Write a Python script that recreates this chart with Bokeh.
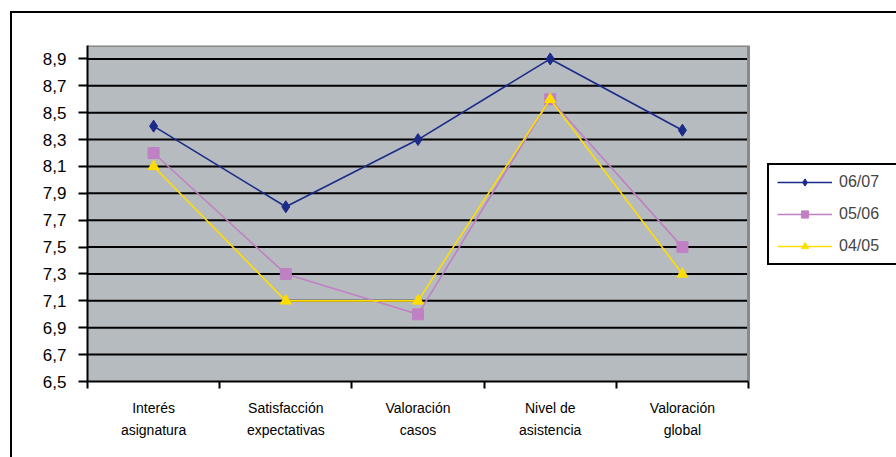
from bokeh.plotting import figure
from bokeh.models import FixedTicker, Legend, LegendItem, Range1d, InlineStyleSheet
from bokeh.embed import file_html
from bokeh.resources import INLINE

# Survey scores per course item, three academic years
categories = ["Interés\nasignatura", "Satisfacción\nexpectativas", "Valoración\ncasos",
              "Nivel de\nasistencia", "Valoración\nglobal"]
series_names = ["06/07", "05/06", "04/05"]
s0607 = [8.4, 7.8, 8.3, 8.9, 8.37]
s0506 = [8.2, 7.3, 7.0, 8.6, 7.5]
s0405 = [8.1, 7.1, 7.1, 8.6, 7.3]
y_ticks = [6.5, 6.7, 6.9, 7.1, 7.3, 7.5, 7.7, 7.9, 8.1, 8.3, 8.5, 8.7, 8.9]
y_min, y_max = 6.5, 9.0

FONT = "Liberation Sans"
n = len(categories)
xs = [i + 0.5 for i in range(n)]

# The frame spans to the right edge so the legend can sit beside the plot area;
# the grey plot area itself covers x in [0, n].
W, H = 896, 457
left_px, area_right_px, top_px, bottom_px = 87, 748, 45, 381
x_end = n * (W - left_px) / (area_right_px - left_px)

p = figure(width=W, height=H, output_backend="svg", toolbar_location=None,
           x_range=Range1d(0, x_end), y_range=Range1d(y_min, y_max),
           min_border_left=left_px, min_border_right=0,
           min_border_top=top_px, min_border_bottom=H - bottom_px)

p.border_fill_color = "white"
p.background_fill_color = "white"
p.outline_line_color = None
p.xgrid.grid_line_color = None
p.ygrid.grid_line_color = None

# grey plot area, black gridlines, grey top/right edge
p.quad(left=0, right=n, bottom=y_min, top=y_max, fill_color="#b6bbbf", line_color=None)
p.segment(x0=[0] * (len(y_ticks) - 1), x1=[n] * (len(y_ticks) - 1),
          y0=y_ticks[1:], y1=y_ticks[1:], line_color="black", line_width=2)
p.line([0, n, n], [y_max, y_max, y_min], line_color="#8a8a8a", line_width=3)

# y axis
p.yaxis.ticker = FixedTicker(ticks=y_ticks)
p.yaxis.major_label_overrides = {t: f"{t:.1f}".replace(".", ",") for t in y_ticks}
p.yaxis.major_label_text_font = FONT
p.yaxis.major_label_text_font_size = "17px"
p.yaxis.major_label_text_color = "black"
p.yaxis.axis_line_color = "black"
p.yaxis.axis_line_width = 2
p.yaxis.major_tick_line_color = "black"
p.yaxis.major_tick_line_width = 2
p.yaxis.major_tick_out = 9
p.yaxis.major_tick_in = 0
p.yaxis.minor_tick_line_color = None
p.yaxis.major_label_standoff = 12

# x axis: labels at category centres, tick marks at category boundaries
p.xaxis.ticker = FixedTicker(ticks=xs, minor_ticks=list(range(n + 1)))
p.xaxis.bounds = (0, n)
p.xaxis.major_label_overrides = {x: c for x, c in zip(xs, categories)}
p.xaxis.major_label_text_font = FONT
p.xaxis.major_label_text_font_size = "14px"
p.xaxis.major_label_text_color = "black"
p.xaxis.major_label_text_line_height = 1.4
p.xaxis.axis_line_color = "black"
p.xaxis.axis_line_width = 2
p.xaxis.major_tick_line_color = None
p.xaxis.minor_tick_line_color = "black"
p.xaxis.minor_tick_line_width = 2
p.xaxis.minor_tick_out = 7
p.xaxis.minor_tick_in = 0
p.xaxis.major_label_standoff = 11

colors = ["#1c2a8a", "#c080c4", "#ffdd00"]
data = [s0607, s0506, s0405]
markers = ["diamond", "square", "triangle"]
sizes = [12, 11, 11]
items = []
for name, vals, col, mk, sz in zip(series_names, data, colors, markers, sizes):
    ln = p.line(xs, vals, line_color=col, line_width=1.6)
    sc = p.scatter(xs, vals, marker=mk, size=sz, fill_color=col, line_color=col)
    items.append(LegendItem(label=name, renderers=[ln, sc]))

legend = Legend(items=items, location=(767 - left_px, bottom_px - 265), orientation="vertical",
                label_text_font=FONT, label_text_font_size="16px",
                border_line_color="black", border_line_width=2, border_line_alpha=1,
                background_fill_color="white", background_fill_alpha=1,
                padding=8, spacing=14, glyph_height=18, glyph_width=55,
                label_standoff=7, label_height=18, label_width=60, margin=0)
p.add_layout(legend, "center")

# outer chart border (its right and bottom edges fall outside the page)
p.stylesheets = [InlineStyleSheet(css="""
:host { position: relative; }
:host::after {
  content: "";
  position: absolute;
  left: 10px; top: 11px; right: 0; bottom: 0;
  border-left: 2px solid #000;
  border-top: 2px solid #000;
  pointer-events: none;
}
""")]

open("out.html", "w").write(file_html(p, INLINE))
